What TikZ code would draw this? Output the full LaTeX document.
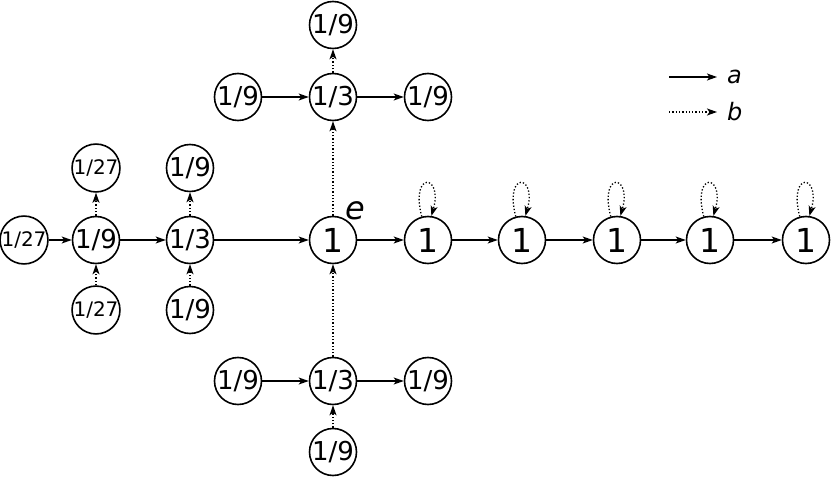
\documentclass[tikz,border=0pt]{standalone}
\usepackage{fontspec}
\setmainfont{DejaVu Sans}
\usetikzlibrary{arrows.meta}
\begin{document}
\begin{tikzpicture}[x=1pt,y=-1pt,
  vtx/.style={circle,draw,line width=1.6pt,minimum size=47pt,inner sep=0pt,font=\fontsize{26}{26}\selectfont},
  big/.style={vtx,font=\fontsize{33}{33}\selectfont},
  small/.style={vtx,font=\fontsize{20}{20}\selectfont},
  ea/.style={line width=1.3pt,-{Stealth[length=10pt,width=7pt,inset=2.5pt]}},
  eb/.style={line width=1.3pt,dotted,-{Stealth[length=10pt,width=7pt,inset=2.5pt]}}]
\useasboundingbox (0,0) rectangle (832,478);
% main row
\node[small] (l1) at (24,240) {1/27};
\node[vtx] (l2) at (96,240) {1/9};
\node[vtx] (l3) at (190,240) {1/3};
\node[big] (c) at (333,240) {1};
\node[big] (r1) at (428,240) {1};
\node[big] (r2) at (522,240) {1};
\node[big] (r3) at (617,240) {1};
\node[big] (r4) at (710,240) {1};
\node[big] (r5) at (806,240) {1};
\node[font=\fontsize{32}{32}\selectfont\itshape] (e) at (355,211) {e};
% columns on left
\node[small] (l2t) at (96,168) {1/27};
\node[small] (l2b) at (96,310) {1/27};
\node[vtx] (l3t) at (190,168) {1/9};
\node[vtx] (l3b) at (190,310) {1/9};
% top cluster
\node[vtx] (t) at (333,97) {1/3};
\node[vtx] (tl) at (238,97) {1/9};
\node[vtx] (tr) at (428,97) {1/9};
\node[vtx] (tt) at (333,25) {1/9};
% bottom cluster
\node[vtx] (b) at (333,381) {1/3};
\node[vtx] (bl) at (238,381) {1/9};
\node[vtx] (br) at (428,381) {1/9};
\node[vtx] (bb) at (333,452) {1/9};
% a edges
\draw[ea] (l1) -- (l2);
\draw[ea] (l2) -- (l3);
\draw[ea] (l3) -- (c);
\draw[ea] (c) -- (r1);
\draw[ea] (r1) -- (r2);
\draw[ea] (r2) -- (r3);
\draw[ea] (r3) -- (r4);
\draw[ea] (r4) -- (r5);
\draw[ea] (tl) -- (t);
\draw[ea] (t) -- (tr);
\draw[ea] (bl) -- (b);
\draw[ea] (b) -- (br);
% b edges
\draw[eb] (l2b) -- (l2);
\draw[eb] (l2) -- (l2t);
\draw[eb] (l3b) -- (l3);
\draw[eb] (l3) -- (l3t);
\draw[eb] (c) -- (t);
\draw[eb] (t) -- (tt);
\draw[eb] (bb) -- (b);
\draw[eb] (b) -- (c);
\foreach \n in {r1,r2,r3,r4,r5}
  \draw[eb] (\n.105) .. controls +(-12,-46) and +(12,-42) .. (\n.82);
% legend
\coordinate (la1) at (669,77);
\coordinate (la2) at (717,77);
\coordinate (lb1) at (669,112);
\coordinate (lb2) at (717,112);
\draw[ea] (la1) -- (la2);
\draw[eb] (lb1) -- (lb2);
\node[font=\fontsize{24}{24}\selectfont\itshape,anchor=west,inner sep=0pt] (ta) at (727,77) {a};
\node[font=\fontsize{24}{24}\selectfont\itshape,anchor=west,inner sep=0pt] (tb) at (727,112) {b};
\end{tikzpicture}
\end{document}
